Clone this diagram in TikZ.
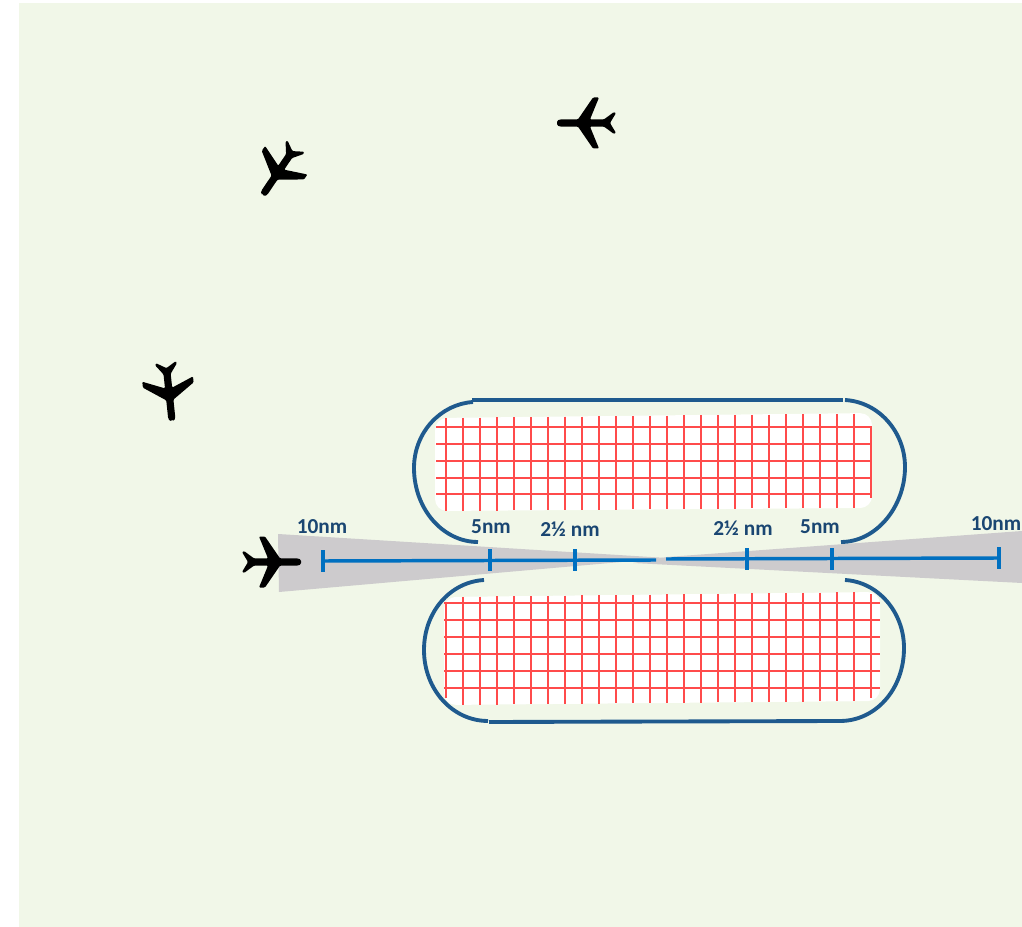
\documentclass[tikz,border=0pt]{standalone}
\usepackage{fontspec}
\setmainfont{Carlito}
\usetikzlibrary{positioning}
\definecolor{apron}{HTML}{F1F7E8}
\definecolor{wedge}{HTML}{CDCBCD}
\definecolor{taxiway}{HTML}{1F5A8E}
\definecolor{scaleline}{HTML}{0070C0}
\definecolor{labeltext}{HTML}{1A4672}
\definecolor{gridred}{HTML}{FF4B4B}

\tikzset{
  airplane/.pic={
    \fill[black,rounded corners=0.8pt] (29,0) .. controls (29,-2.5) and (27,-3.6) .. (24,-3.6)
      -- (8,-3.6) -- (-7,-25.5) -- (-13,-25.5) -- (-4,-3.6) -- (-18,-3.6) -- (-28,-11) -- (-30,-10)
      -- (-24,0) -- (-30,10) -- (-28,11) -- (-18,3.6) -- (-4,3.6) -- (-13,25.5) -- (-7,25.5)
      -- (8,3.6) -- (24,3.6) .. controls (27,3.6) and (29,2.5) .. (29,0) -- cycle;
  }
}

\begin{document}
\begin{tikzpicture}[
      x=0.75pt,y=-0.75pt,
      track/.style={line width=2.9pt,taxiway},
      scalebar/.style={line width=2.6pt,scaleline},
      hline/.style={line width=1.3pt,gridred},
      vline/.style={line width=1.8pt,gridred},
      lbl/.style={font=\fontsize{16}{18}\selectfont\bfseries,text=labeltext,inner sep=0pt}]
    \useasboundingbox (0,0) rectangle (1022,927);
    \fill[apron] (19,3) rectangle (1022,927);

    \fill[wedge] (278,534) -- (667,558) -- (279,592) -- cycle;
    \fill[wedge] (1022,531) -- (667,557) -- (633,563) -- (1022,583) -- cycle;

    \fill[white,rounded corners=9pt] (435,418) -- (872,413) -- (872,508) -- (435,511) -- cycle;
    \fill[white,rounded corners=9pt] (444,597) -- (880,592) -- (880,701) -- (444,705) -- cycle;
    \foreach \y in {427,444,461,478,494}
      \draw[hline] (436,\y) -- (872,\y);
    \foreach \y in {603,620,637,654,671,688}
      \draw[hline] (444,\y) -- (880,\y);
    \foreach \i in {0,...,24}
      \draw[vline] ({446+17*\i},{418-0.18*\i}) -- ({446+17*\i},{511-0.14*\i});
    \foreach \i in {1,...,24}
      \draw[vline] ({446+17*\i},{597-0.2*\i}) -- ({446+17*\i},{705-0.16*\i});
    \draw[vline] (871,427) -- (871,498);
    \draw[vline] (446,603) -- (446,698);
    \draw[vline] (871,594) -- (871,698);

    \coordinate (ntl) at (472,400);
    \coordinate (ntr) at (843,400);
    \coordinate (ntlarc) at (473,402);
    \coordinate (ntrarc) at (845,400);
    \coordinate (nbl) at (478,542);
    \coordinate (nbr) at (841,542);
    \coordinate (stl) at (484,580);
    \coordinate (str) at (845,580);
    \coordinate (sbl) at (489,722);
    \coordinate (sbr) at (840,721);
    \coordinate (sblarc) at (488,721);
    \draw[track] (ntl) -- (ntr);
    \draw[track] (sbl) -- (sbr);
    \draw[track] (ntlarc) .. controls (441,404) and (414,432) .. (414,468)
      .. controls (414,509) and (443,542) .. (nbl);
    \draw[track] (ntrarc) .. controls (879,402) and (905,432) .. (905,467)
      .. controls (905,507) and (876,542) .. (nbr);
    \draw[track] (stl) .. controls (450,582) and (424,612) .. (424,650)
      .. controls (424,690) and (453,721) .. (sblarc);
    \draw[track] (str) .. controls (878,582) and (904,612) .. (904,648)
      .. controls (904,690) and (875,721) .. (sbr);

    \coordinate (leftten) at (323,561);
    \coordinate (leftfive) at (490,560);
    \coordinate (lefthalf) at (575,560);
    \coordinate (leftend) at (656,560);
    \coordinate (rightend) at (666,559);
    \coordinate (righthalf) at (747,559);
    \coordinate (rightfive) at (832,559);
    \coordinate (rightten) at (999,558);
    \draw[scalebar] (leftten) -- (leftend);
    \draw[scalebar] (rightend) -- (rightten);
    \foreach \tick in {leftten,leftfive,lefthalf,righthalf,rightfive,rightten}
      \draw[scalebar] ([yshift=8.2pt]\tick.center) -- ([yshift=-8pt]\tick.center);

    \node[lbl] (lblleftten) at (322,527) {10nm};
    \node[lbl] (lblleftfive) at (491,527) {5nm};
    \node[lbl] (lbllefthalf) at (570,529) {2½ nm};
    \node[lbl] (lblrighthalf) at (743,528) {2½ nm};
    \node[lbl] (lblrightfive) at (820,527) {5nm};
    \node[lbl] (lblrightten) at (996,524) {10nm};

    \pic (planeapproach) at (272,562) {airplane};
    \pic[rotate=180] (planetop) at (586,123) {airplane};
    \pic[rotate=236] (planeupper) at (279,171) {airplane};
    \pic[rotate=-84] (planeleft) at (169,392) {airplane};
  \end{tikzpicture}
\end{document}
